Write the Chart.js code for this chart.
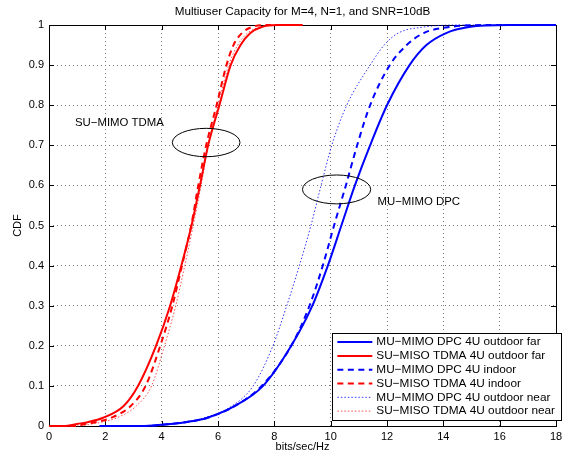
<!DOCTYPE html>
<html lang="en">
<head>
<meta charset="UTF-8">
<title>Multiuser Capacity CDF</title>
<script src="https://cdn.jsdelivr.net/npm/chart.js"></script>
<style>
  html, body { margin: 0; padding: 0; background: #fff; }
</style>
</head>
<body>
<canvas id="cdfChart" width="572" height="456"></canvas>
<script>
// CDF levels, shared by every curve (two leading zeros, two trailing ones)
const cdfLevels = [0, 0, 0.005, 0.01, 0.02, 0.05, 0.1, 0.2, 0.3, 0.4, 0.5, 0.6, 0.7, 0.8, 0.9, 0.95, 0.98, 0.995, 1, 1];

// capacity (bits/sec/Hz) at each CDF level
const muFarX    = [1.8, 3.4, 4.3, 4.9, 5.6, 6.6, 7.6, 8.6, 9.35, 9.9, 10.38, 10.86, 11.4, 12.0, 12.8, 13.4, 14.1, 14.9, 16.3, 18];
const suFarX    = [0, 0.6, 1.0, 1.4, 1.9, 2.65, 3.16, 3.8, 4.3, 4.7, 5.06, 5.36, 5.65, 6.05, 6.45, 6.8, 7.15, 7.55, 8.1, 9.0];
const muIndoorX = [1.8, 3.4, 4.3, 4.9, 5.6, 6.6, 7.55, 8.6, 9.25, 9.72, 10.12, 10.54, 10.94, 11.4, 12.1, 12.7, 13.3, 14.2, 15.5, 18];
const suIndoorX = [0, 0.9, 1.3, 1.7, 2.2, 2.9, 3.43, 3.95, 4.38, 4.72, 5.05, 5.3, 5.58, 5.95, 6.3, 6.55, 6.85, 7.2, 7.8, 9.0];
const muNearX   = [1.8, 3.3, 4.2, 4.8, 5.5, 6.5, 7.25, 7.95, 8.44, 8.89, 9.3, 9.66, 10.04, 10.57, 11.4, 11.9, 12.4, 13.3, 14.5, 18];
const suNearX   = [0, 1.0, 1.5, 1.9, 2.4, 3.1, 3.64, 4.1, 4.5, 4.82, 5.12, 5.4, 5.65, 6.0, 6.38, 6.7, 7.05, 7.5, 8.0, 9.0];

const seriesNames = [
    'MU\u2212MIMO DPC 4U outdoor far',
    'SU\u2212MISO TDMA 4U outdoor far',
    'MU\u2212MIMO DPC 4U indoor',
    'SU\u2212MISO TDMA 4U indoor',
    'MU\u2212MIMO DPC 4U outdoor near',
    'SU\u2212MISO TDMA 4U outdoor near'
];

const xTicks = [0, 2, 4, 6, 8, 10, 12, 14, 16, 18];
const yTicks = [0, 0.1, 0.2, 0.3, 0.4, 0.5, 0.6, 0.7, 0.8, 0.9, 1];

const FONT = "'Liberation Sans', Arial, Helvetica, sans-serif";

function toPoints(xs) {
    return xs.map((x, i) => ({ x: x, y: cdfLevels[i] }));
}

function curve(label, xs, color, kind) {
    const ds = {
        label: label,
        data: toPoints(xs),
        showLine: true,
        borderColor: color,
        backgroundColor: color,
        pointRadius: 0,
        pointHoverRadius: 0,
        cubicInterpolationMode: 'monotone',
        borderWidth: 2,
        clip: false
    };
    if (kind === 'dash') ds.borderDash = [6, 4.5];
    if (kind === 'dot') { ds.borderWidth = 1; ds.borderDash = [1.5, 2]; }
    return ds;
}

// MATLAB-style box, inner tick marks, ellipses, labels and legend
const matlabAxes = {
    id: 'matlabAxes',
    beforeDatasetsDraw(chart) {
        const { ctx, chartArea: a, scales: { x, y } } = chart;
        ctx.save();
        ctx.strokeStyle = '#000';
        ctx.lineWidth = 1;
        ctx.beginPath();
        xTicks.forEach(t => {
            const px = Math.round(x.getPixelForValue(t)) + 0.5;
            ctx.moveTo(px, a.bottom); ctx.lineTo(px, a.bottom - 5);
            ctx.moveTo(px, a.top); ctx.lineTo(px, a.top + 5);
        });
        yTicks.forEach(t => {
            const py = Math.round(y.getPixelForValue(t)) + 0.5;
            ctx.moveTo(a.left, py); ctx.lineTo(a.left + 5, py);
            ctx.moveTo(a.right, py); ctx.lineTo(a.right - 5, py);
        });
        ctx.stroke();
        ctx.strokeRect(Math.round(a.left) + 0.5, Math.round(a.top) + 0.5,
            Math.round(a.right - a.left), Math.round(a.bottom - a.top));
        ctx.restore();
    },
    afterDraw(chart) {
        const { ctx, chartArea: a, scales: { x, y } } = chart;
        ctx.save();

        // ellipses around the curve bundles
        const ellipse = (cx, cy, rx, ry) => {
            const px = x.getPixelForValue(cx), py = y.getPixelForValue(cy);
            const rpx = x.getPixelForValue(cx + rx) - px;
            const rpy = py - y.getPixelForValue(cy + ry);
            ctx.beginPath();
            ctx.ellipse(px, py, rpx, rpy, 0, 0, Math.PI * 2);
            ctx.stroke();
        };
        ctx.strokeStyle = '#000';
        ctx.lineWidth = 1;
        ellipse(5.58, 0.707, 1.2, 0.0354);
        ellipse(10.21, 0.59, 1.21, 0.036);

        ctx.fillStyle = '#000';
        ctx.font = '11.4px ' + FONT;
        ctx.textAlign = 'left';
        ctx.textBaseline = 'middle';
        ctx.fillText('SU\u2212MIMO TDMA', x.getPixelForValue(0.92), y.getPixelForValue(0.756));
        ctx.fillText('MU\u2212MIMO DPC', x.getPixelForValue(11.66), y.getPixelForValue(0.559));

        // legend box in the lower right corner
        ctx.font = '11.8px ' + FONT;
        const sets = chart.data.datasets;
        const textW = Math.max(...sets.map(d => ctx.measureText(d.label).width));
        const rowH = 13.8;
        const right = a.right + 5;
        const bottom = a.bottom - 6;
        const top = bottom - rowH * sets.length - 4;
        const left = right - (44 + textW + 6);
        ctx.fillStyle = '#fff';
        ctx.fillRect(left, top, right - left, bottom - top);
        ctx.strokeStyle = '#000';
        ctx.strokeRect(Math.round(left) + 0.5, Math.round(top) + 0.5,
            Math.round(right - left), Math.round(bottom - top));
        sets.forEach((d, i) => {
            const ry = top + 2 + rowH * (i + 0.5);
            ctx.save();
            ctx.strokeStyle = d.borderColor;
            ctx.lineWidth = d.borderWidth;
            ctx.setLineDash(d.borderDash || []);
            ctx.beginPath();
            ctx.moveTo(left + 5, ry);
            ctx.lineTo(left + 40, ry);
            ctx.stroke();
            ctx.restore();
            ctx.fillStyle = '#000';
            ctx.fillText(d.label, left + 44, ry);
        });
        ctx.restore();
    }
};

const plainTick = v => String(Math.round(v * 10) / 10);

new Chart(document.getElementById('cdfChart'), {
    type: 'scatter',
    data: {
        datasets: [
            curve(seriesNames[0], muFarX, '#0000ff', 'solid'),
            curve(seriesNames[1], suFarX, '#ff0000', 'solid'),
            curve(seriesNames[2], muIndoorX, '#0000ff', 'dash'),
            curve(seriesNames[3], suIndoorX, '#ff0000', 'dash'),
            curve(seriesNames[4], muNearX, 'rgba(0,0,255,0.8)', 'dot'),
            curve(seriesNames[5], suNearX, 'rgba(255,0,0,0.7)', 'dot')
        ]
    },
    options: {
        responsive: false,
        animation: false,
        devicePixelRatio: 1,
        layout: { padding: { left: 0, right: 16, top: 0, bottom: 0 } },
        plugins: {
            legend: { display: false },
            tooltip: { enabled: false },
            title: {
                display: true,
                fullSize: false,
                text: 'Multiuser Capacity for M=4, N=1, and SNR=10dB',
                color: '#000',
                font: { family: FONT, size: 11.7, weight: 'normal' },
                padding: { top: 5, bottom: 6 }
            }
        },
        scales: {
            x: {
                type: 'linear',
                min: 0,
                max: 18,
                afterBuildTicks: s => { s.ticks = xTicks.map(v => ({ value: v })); },
                afterFit: s => { s.height = 30; },
                grid: { color: '#777', lineWidth: 1, drawTicks: false },
                border: { display: false, dash: [1, 3] },
                ticks: { color: '#000', padding: 4, font: { family: FONT, size: 11 }, callback: plainTick },
                title: {
                    display: true,
                    text: 'bits/sec/Hz',
                    color: '#000',
                    font: { family: FONT, size: 11 },
                    padding: { top: 0, bottom: 2 }
                }
            },
            y: {
                type: 'linear',
                min: 0,
                max: 1,
                afterBuildTicks: s => { s.ticks = yTicks.map(v => ({ value: v })); },
                afterFit: s => { s.width = 49; },
                grid: { color: '#777', lineWidth: 1, drawTicks: false },
                border: { display: false, dash: [1, 3] },
                ticks: { color: '#000', padding: 5, font: { family: FONT, size: 11 }, callback: plainTick },
                title: {
                    display: true,
                    text: 'CDF',
                    color: '#000',
                    font: { family: FONT, size: 11 },
                    padding: { top: 11, bottom: 0 }
                }
            }
        }
    },
    plugins: [matlabAxes]
});
</script>
</body>
</html>
